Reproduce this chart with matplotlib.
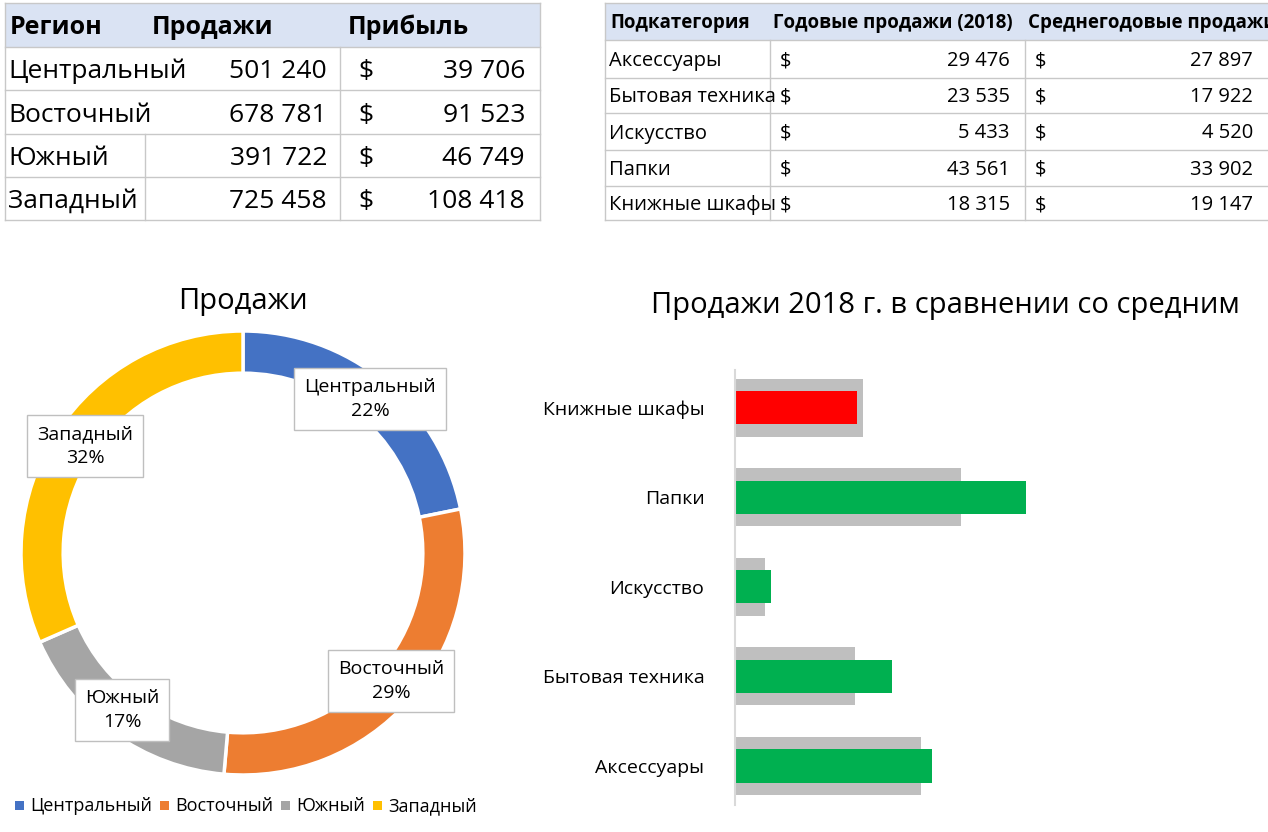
import matplotlib
matplotlib.use("Agg")
import matplotlib.pyplot as plt
from matplotlib.patches import Rectangle

plt.rcParams['font.family'] = ['Open Sans', 'DejaVu Sans']

regions = ["Центральный", "Восточный", "Южный", "Западный"]
reg_sales = [501240, 678781, 391722, 725458]
reg_profit = [39706, 91523, 46749, 108418]
reg_pct_labels = [22, 29, 17, 32]
subcats = ["Аксессуары", "Бытовая техника", "Искусство", "Папки", "Книжные шкафы"]
sales2018 = [29476, 23535, 5433, 43561, 18315]
avg_sales = [27897, 17922, 4520, 33902, 19147]
pie_colors = ["#4472C4", "#ED7D31", "#A5A5A5", "#FFC000"]

def fmt(v):
    return f"{v:,}".replace(",", " ")

W, H = 1268, 832
fig = plt.figure(figsize=(W/100, H/100), dpi=100)

def px_axes(x0, y0, x1, y1, **kw):
    return fig.add_axes([x0/W, 1-y1/H, (x1-x0)/W, (y1-y0)/H], **kw)

# donut
ax_p = px_axes(21, 331, 465, 775)
ax_p.pie(reg_sales, colors=pie_colors, startangle=90, counterclock=False,
         radius=1, wedgeprops=dict(width=0.19, edgecolor='white', linewidth=2.5))
ax_p.set_xlim(-1, 1); ax_p.set_ylim(-1, 1); ax_p.set_aspect('auto'); ax_p.axis('off')

# bars
ax_b = px_axes(735, 370, 1268, 805)
ypos = list(range(len(subcats)))
ax_b.barh(ypos, avg_sales, height=0.65, color="#BFBFBF")
cols = ["#00B050" if s >= a else "#FF0000" for s, a in zip(sales2018, avg_sales)]
ax_b.barh(ypos, sales2018, height=0.37, color=cols)
ax_b.set_xlim(0, 533/0.00667)
ax_b.set_ylim(-0.436, 4.42)
ax_b.set_yticks(ypos)
ax_b.set_yticklabels(subcats, fontsize=14)
ax_b.tick_params(axis='y', length=0, pad=22)
ax_b.set_xticks([])
for s in ['top', 'right', 'bottom']:
    ax_b.spines[s].set_visible(False)
ax_b.spines['left'].set_color("#D9D9D9")
ax_b.spines['left'].set_linewidth(1.5)
ax_b.patch.set_alpha(0)

# overlay
ov = fig.add_axes([0, 0, 1, 1], zorder=10)
ov.set_xlim(0, W); ov.set_ylim(H, 0); ov.axis('off'); ov.patch.set_alpha(0)

grid = "#C8C8C8"
def line(x0, y0, x1, y1, c=grid, lw=1):
    ov.plot([x0, x1], [y0, y1], color=c, lw=lw)

# left table
ov.add_patch(Rectangle((5, 3), 535, 44, color="#DAE3F3", lw=0))
lrows = [3, 47, 90, 134, 177, 220]
for y in lrows:
    line(5, y, 540, y)
line(5, 3, 5, 220); line(540, 3, 540, 220)
line(340, 47, 340, 220)
line(145, 134, 145, 220)
ov.text(10, 27, "Регион", fontsize=18, fontweight='bold', va='center')
ov.text(152, 27, "Продажи", fontsize=18, fontweight='bold', va='center')
ov.text(348, 27, "Прибыль", fontsize=18, fontweight='bold', va='center')
for i, (r, s, p) in enumerate(zip(regions, reg_sales, reg_profit)):
    yc = (lrows[i+1] + lrows[i+2]) / 2 + 3
    ov.text(8, yc, r, fontsize=19, va='center')
    ov.text(327, yc, fmt(s), fontsize=19, va='center', ha='right')
    ov.text(358, yc, "$", fontsize=19, va='center')
    ov.text(525, yc, fmt(p), fontsize=19, va='center', ha='right')

# right table
ov.add_patch(Rectangle((605, 3), 663, 37, color="#DAE3F3", lw=0))
rrows = [3, 40, 78, 113, 150, 186, 220]
for y in rrows:
    line(605, y, 1268, y)
line(605, 3, 605, 220)
line(770, 40, 770, 220); line(1025, 40, 1025, 220)
ov.text(610, 23, "Подкатегория", fontsize=13.5, fontweight='bold', va='center')
ov.text(773, 23, "Годовые продажи (2018)", fontsize=13.5, fontweight='bold', va='center')
ov.text(1028, 23, "Среднегодовые продажи", fontsize=13.5, fontweight='bold', va='center', clip_on=True)
for i, (c, s, a) in enumerate(zip(subcats, sales2018, avg_sales)):
    yc = (rrows[i+1] + rrows[i+2]) / 2 + 2
    ov.text(609, yc, c, fontsize=14.5, va='center')
    ov.text(780, yc, "$", fontsize=14.5, va='center')
    ov.text(1010, yc, fmt(s), fontsize=14.5, va='center', ha='right')
    ov.text(1035, yc, "$", fontsize=14.5, va='center')
    ov.text(1253, yc, fmt(a), fontsize=14.5, va='center', ha='right')

# titles
ov.text(243, 302, "Продажи", fontsize=21, ha='center', va='center')
ov.text(945, 305, "Продажи 2018 г. в сравнении со средним", fontsize=21, ha='center', va='center')

# donut labels
lab_pos = [(370, 399), (391, 681), (122, 710), (85, 446)]
for (x, y), r, v in zip(lab_pos, regions, reg_pct_labels):
    ov.text(x, y, f"{r}\n{v}%", fontsize=14, ha='center', va='center',
            linespacing=1.4,
            bbox=dict(boxstyle='square,pad=0.5', fc='white', ec='#BFBFBF', lw=1))

# legend
fig.canvas.draw()
rend = fig.canvas.get_renderer()
x = 15
for r, c in zip(regions, pie_colors):
    ov.add_patch(Rectangle((x, 801), 9, 9, color=c, lw=0))
    t = ov.text(x + 15, 806, r, fontsize=13, va='center')
    w = t.get_window_extent(renderer=rend).width
    x += 15 + w + 8

fig.savefig("out.png", dpi=100)
